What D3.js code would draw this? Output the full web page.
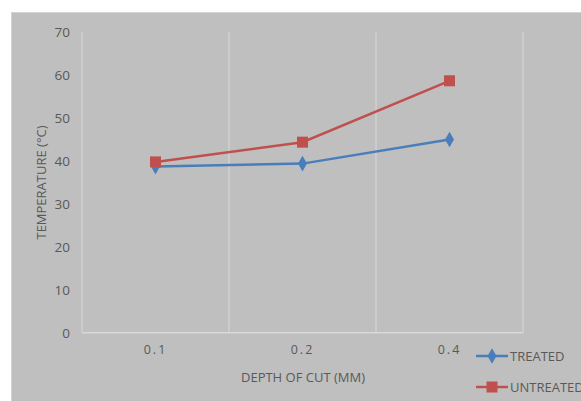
<!DOCTYPE html>
<html>
<head>
<meta charset="utf-8">
<script src="https://cdn.jsdelivr.net/npm/d3@7"></script>
<style>
  html, body { margin: 0; padding: 0; background: #ffffff; }
  svg { display: block; }
  text { font-family: "Open Sans", "Liberation Sans", sans-serif; }
</style>
</head>
<body>
<svg id="chart" width="581" height="401"></svg>
<script>
// Cutting-depth categories and measured temperatures
const depths = ["0.1", "0.2", "0.4"];
const treated = [38.7, 39.4, 45.0];
const untreated = [39.8, 44.4, 58.7];
const yTicks = [0, 10, 20, 30, 40, 50, 60, 70];
const seriesNames = ["TREATED", "UNTREATED"];
const seriesColors = ["#4a7ebb", "#c0504d"];

const svg = d3.select("#chart");
const W = 581, H = 401;

// Chart area background
svg.append("rect")
  .attr("x", 11.5).attr("y", 12.5)
  .attr("width", W - 11).attr("height", H - 12)
  .attr("fill", "#bfbfbf")
  .attr("stroke", "#d4d4d4").attr("stroke-width", 1);

const plot = { left: 82, right: 523, top: 32.3, bottom: 332.7 };

const x = d3.scaleBand().domain(depths).range([plot.left, plot.right]);
const y = d3.scaleLinear().domain([0, 70]).range([plot.bottom, plot.top]);

// Vertical gridlines at category boundaries
const bounds = depths.map(d => x(d)).concat([x.range()[1]]);
svg.append("g").selectAll("line").data(bounds).join("line")
  .attr("x1", d => d).attr("x2", d => d)
  .attr("y1", plot.top).attr("y2", plot.bottom)
  .attr("stroke", "#d9d9d9").attr("stroke-width", 1);

// Horizontal baseline
svg.append("line")
  .attr("x1", plot.left).attr("x2", plot.right)
  .attr("y1", plot.bottom).attr("y2", plot.bottom)
  .attr("stroke", "#d9d9d9").attr("stroke-width", 1.5);

// Y axis
const yAxis = svg.append("g")
  .attr("transform", `translate(${plot.left - 12},0)`)
  .call(d3.axisLeft(y).tickValues(yTicks).tickSize(0).tickPadding(0));
yAxis.select(".domain").remove();
yAxis.selectAll("text")
  .attr("fill", "#595959").style("font-size", "13.5px");

// X axis
const xAxis = svg.append("g")
  .attr("transform", `translate(0,${plot.bottom + 10})`)
  .call(d3.axisBottom(x).tickSize(0).tickPadding(0));
xAxis.select(".domain").remove();
xAxis.selectAll("text")
  .attr("fill", "#595959").style("font-size", "12.5px")
  .style("letter-spacing", "2px").attr("dy", "0.9em");

// Axis titles
svg.append("text")
  .attr("x", 303).attr("y", 382)
  .attr("text-anchor", "middle")
  .attr("fill", "#595959").style("font-size", "13px")
  .text("DEPTH OF CUT (MM)");

svg.append("text")
  .attr("transform", `translate(46,${(plot.top + plot.bottom) / 2}) rotate(-90)`)
  .attr("text-anchor", "middle")
  .attr("fill", "#595959").style("font-size", "13px")
  .text("TEMPERATURE (°C)");

// Series
const line = d3.line()
  .x((d, i) => x(depths[i]) + x.bandwidth() / 2)
  .y(d => y(d));

const allSeries = [treated, untreated];
const diamond = d3.symbol().type(d3.symbolDiamond).size(70);

allSeries.forEach((vals, si) => {
  const g = svg.append("g");
  g.append("path").datum(vals)
    .attr("d", line).attr("fill", "none")
    .attr("stroke", seriesColors[si]).attr("stroke-width", 2.5);
  if (si === 0) {
    g.selectAll("path.m").data(vals).join("path").attr("class", "m")
      .attr("transform", (d, i) => `translate(${x(depths[i]) + x.bandwidth() / 2},${y(d)})`)
      .attr("d", diamond).attr("fill", seriesColors[si]);
  } else {
    g.selectAll("rect").data(vals).join("rect")
      .attr("x", (d, i) => x(depths[i]) + x.bandwidth() / 2 - 5.5)
      .attr("y", d => y(d) - 5.5)
      .attr("width", 11).attr("height", 11)
      .attr("fill", seriesColors[si]);
  }
});

// Legend
const legendY = [356, 387];
seriesNames.forEach((name, si) => {
  const g = svg.append("g").attr("transform", `translate(476,${legendY[si]})`);
  g.append("line").attr("x1", 0).attr("x2", 32).attr("y1", 0).attr("y2", 0)
    .attr("stroke", seriesColors[si]).attr("stroke-width", 2.5);
  if (si === 0) {
    g.append("path").attr("transform", "translate(16,0)")
      .attr("d", diamond).attr("fill", seriesColors[si]);
  } else {
    g.append("rect").attr("x", 10.5).attr("y", -5.5)
      .attr("width", 11).attr("height", 11).attr("fill", seriesColors[si]);
  }
  g.append("text").attr("x", 34).attr("y", 0).attr("dy", "0.35em")
    .attr("fill", "#595959").style("font-size", "13px")
    .text(name);
});
</script>
</body>
</html>
